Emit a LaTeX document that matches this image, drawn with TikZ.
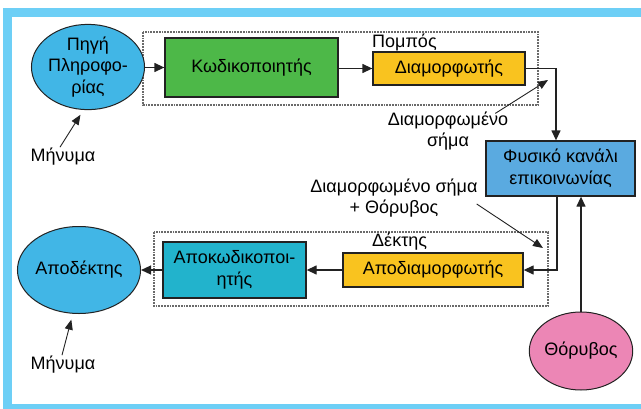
\documentclass[tikz,border=0pt]{standalone}
\usepackage{fontspec}
\setmainfont{Liberation Sans}
\usepackage{tikz}
\usepackage{xcolor}
\usetikzlibrary{arrows.meta,positioning,shapes.geometric}
\definecolor{ink}{HTML}{222222}
\definecolor{inkgray}{HTML}{6A6A6A}
\definecolor{framebl}{HTML}{6DCFF6}
\definecolor{endpt}{HTML}{41B6E6}
\definecolor{encgreen}{HTML}{4DB848}
\definecolor{modyel}{HTML}{F9C31F}
\definecolor{chanbl}{HTML}{5AAAE0}
\definecolor{deccyan}{HTML}{22B3CC}
\definecolor{noisepk}{HTML}{EC86B5}
\tikzset{
  frameline/.style={draw=framebl,line width=9pt},
  blob/.style={ellipse,draw=ink,line width=1pt,align=center,inner sep=0pt,
               font=\fontsize{18}{21.5}\selectfont},
  block/.style={rectangle,draw=ink,line width=1.3pt,align=center,inner sep=2pt,
                font=\fontsize{18}{21.5}\selectfont},
  lbl/.style={align=center,inner sep=1pt,font=\fontsize{18}{21.5}\selectfont},
  dotbox/.style={draw=inkgray,densely dotted,line width=1.8pt},
  arr/.style={-{Triangle[length=10pt,width=9pt]},line width=1.3pt,draw=ink},
  notearr/.style={-{Triangle[length=10pt,width=8pt]},line width=0.9pt,draw=ink}
}

\begin{document}
\begin{tikzpicture}[x=1pt,y=-1pt]
    \path[use as bounding box] (0,0) rectangle (641,408);
    \clip (0,0) rectangle (641,408);
    \fill[white] (0,0) rectangle (641,408);
    \draw[frameline] (7,12) rectangle (700,408.5);
    % transmitter and receiver groups
    \draw[dotbox] (143,32) rectangle (538,105);
    \draw[dotbox] (154,232) rectangle (548,306);
    \node[lbl,anchor=west] (txlbl) at (371,42) {Πομπός};
    \node[lbl,anchor=west] (rxlbl) at (371,242) {Δέκτης};
    % blocks
    \node[blob,fill=endpt,minimum width=90pt,minimum height=85pt] (src) at (88,67)
      {Πηγή\\Πληροφο-\\ρίας};
    \node[block,fill=encgreen,minimum width=173pt,minimum height=59pt] (enc) at (251.5,67.5)
      {Κωδικοποιητής};
    \node[block,fill=modyel,minimum width=152pt,minimum height=33pt] (mod) at (449,68.5)
      {Διαμορφωτής};
    \node[block,fill=chanbl,minimum width=149pt,minimum height=55pt] (chan) at (560.5,168.5)
      {Φυσικό κανάλι\\επικοινωνίας};
    \node[block,fill=modyel,minimum width=180pt,minimum height=34pt] (demod) at (433,270)
      {Αποδιαμορφωτής};
    \node[block,fill=deccyan,minimum width=143pt,minimum height=56pt] (dec) at (234.5,270)
      {Αποκωδικοποι-\\ητής};
    \node[blob,fill=endpt,minimum width=92pt,minimum height=87pt] (dst) at (79,270)
      {Αποδέκτης};
    \node[blob,fill=noisepk,minimum width=92pt,minimum height=78pt] (noise) at (581,351)
      {Θόρυβος};
    % notes
    \node[lbl] (msgin) at (63,157) {Μήνυμα};
    \node[lbl] (msgout) at (63,365) {Μήνυμα};
    \node[lbl] (modlbl) at (448,131) {Διαμορφωμένο\\σήμα};
    \node[lbl] (noisylbl) at (394,198) {Διαμορφωμένο σήμα\\+ Θόρυβος};
    \coordinate (modpt) at (548,80);
    \coordinate (noisypt) at (543,248);
    % signal path
    \draw[arr] (src.east|-enc.west) -- (enc.west);
    \draw[arr] (enc.east|-mod.west) -- (mod.west);
    \draw[arr] (mod.east) -| ([xshift=-4.5pt]chan.north);
    \draw[arr] ([xshift=-3.5pt]chan.south) |- (demod.east);
    \draw[arr] (noise.north) -- (noise.north|-chan.south);
    \draw[arr] (demod.west) -- (dec.east);
    \draw[arr] (dec.west) -- (dst.east);
    \draw[notearr] ([xshift=-3pt]msgin.north) -- ([yshift=-5pt]src.-100);
    \draw[notearr] ([xshift=-1pt]msgout.north) -- ([yshift=-6pt]dst.-100);
    \draw[notearr] ([xshift=-14pt,yshift=-3pt]modlbl.north east) -- (modpt);
    \draw[notearr] ([xshift=-2pt,yshift=-6pt]noisylbl.east) -- (noisypt);
  \end{tikzpicture}
\end{document}
